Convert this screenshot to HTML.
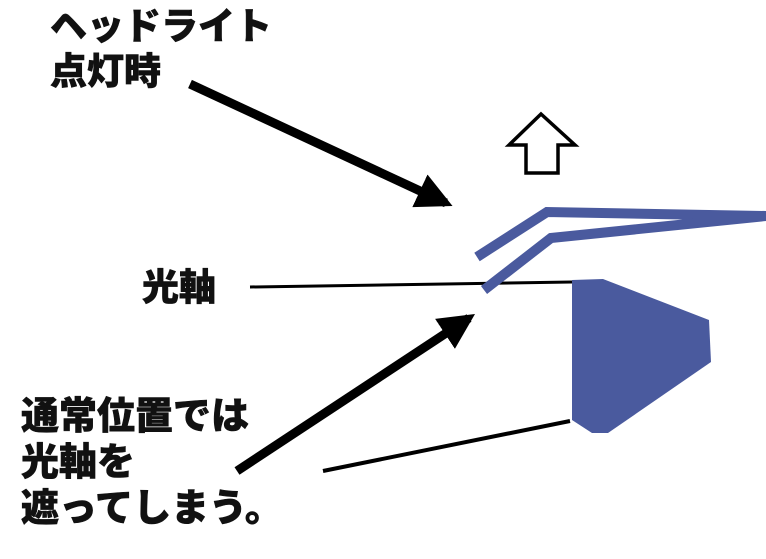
<!DOCTYPE html>
<html><head><meta charset="utf-8"><style>
html,body{margin:0;padding:0;background:#fff;}
body{width:766px;height:559px;position:relative;overflow:hidden;}
.t{position:absolute;font-family:"Liberation Sans","Noto Sans CJK JP",sans-serif;font-weight:900;font-size:37px;line-height:1;color:#111;white-space:nowrap;-webkit-text-stroke:0.6px #111;}
svg{position:absolute;left:0;top:0;}
</style></head><body>
<svg width="766" height="559" viewBox="0 0 766 559">
<defs>
<marker id="ah" viewBox="0 0 10 10" refX="8" refY="5" markerWidth="4" markerHeight="4" orient="auto" markerUnits="strokeWidth">
<path d="M0,0 L10,5 L0,10 z" fill="#000"/></marker>
</defs>
<line x1="190" y1="84" x2="446" y2="203" stroke="#000" stroke-width="9" marker-end="url(#ah)"/>
<line x1="237" y1="471" x2="469" y2="318" stroke="#000" stroke-width="9" marker-end="url(#ah)"/>
<line x1="250" y1="287" x2="572" y2="282" stroke="#000" stroke-width="3"/>
<line x1="323" y1="471" x2="570" y2="421" stroke="#000" stroke-width="4"/>
<polygon points="541,114 575,145 558,145 558,173 526,173 526,145 509,145" fill="#fff" stroke="#000" stroke-width="3.5" stroke-linejoin="miter"/>
<polyline points="477,257 547,212 766,216" fill="none" stroke="#4a5a9e" stroke-width="10"/>
<polyline points="484,290 551,238 766,216" fill="none" stroke="#4a5a9e" stroke-width="10"/>
<polygon points="572,280 603,279 709,320 711,362 608,433 592,433 572,420" fill="#4a5a9e"/>
</svg>
<div class="t" style="left:50px;top:8px;">ヘッドライト</div>
<div class="t" style="left:50px;top:53px;">点灯時</div>
<div class="t" style="left:142px;top:269px;">光軸</div>
<div class="t" style="left:21px;top:398px;font-size:38px;">通常位置では</div>
<div class="t" style="left:21px;top:444px;font-size:38px;">光軸を</div>
<div class="t" style="left:21px;top:490px;font-size:38px;">遮ってしまう。</div>
</body></html>
